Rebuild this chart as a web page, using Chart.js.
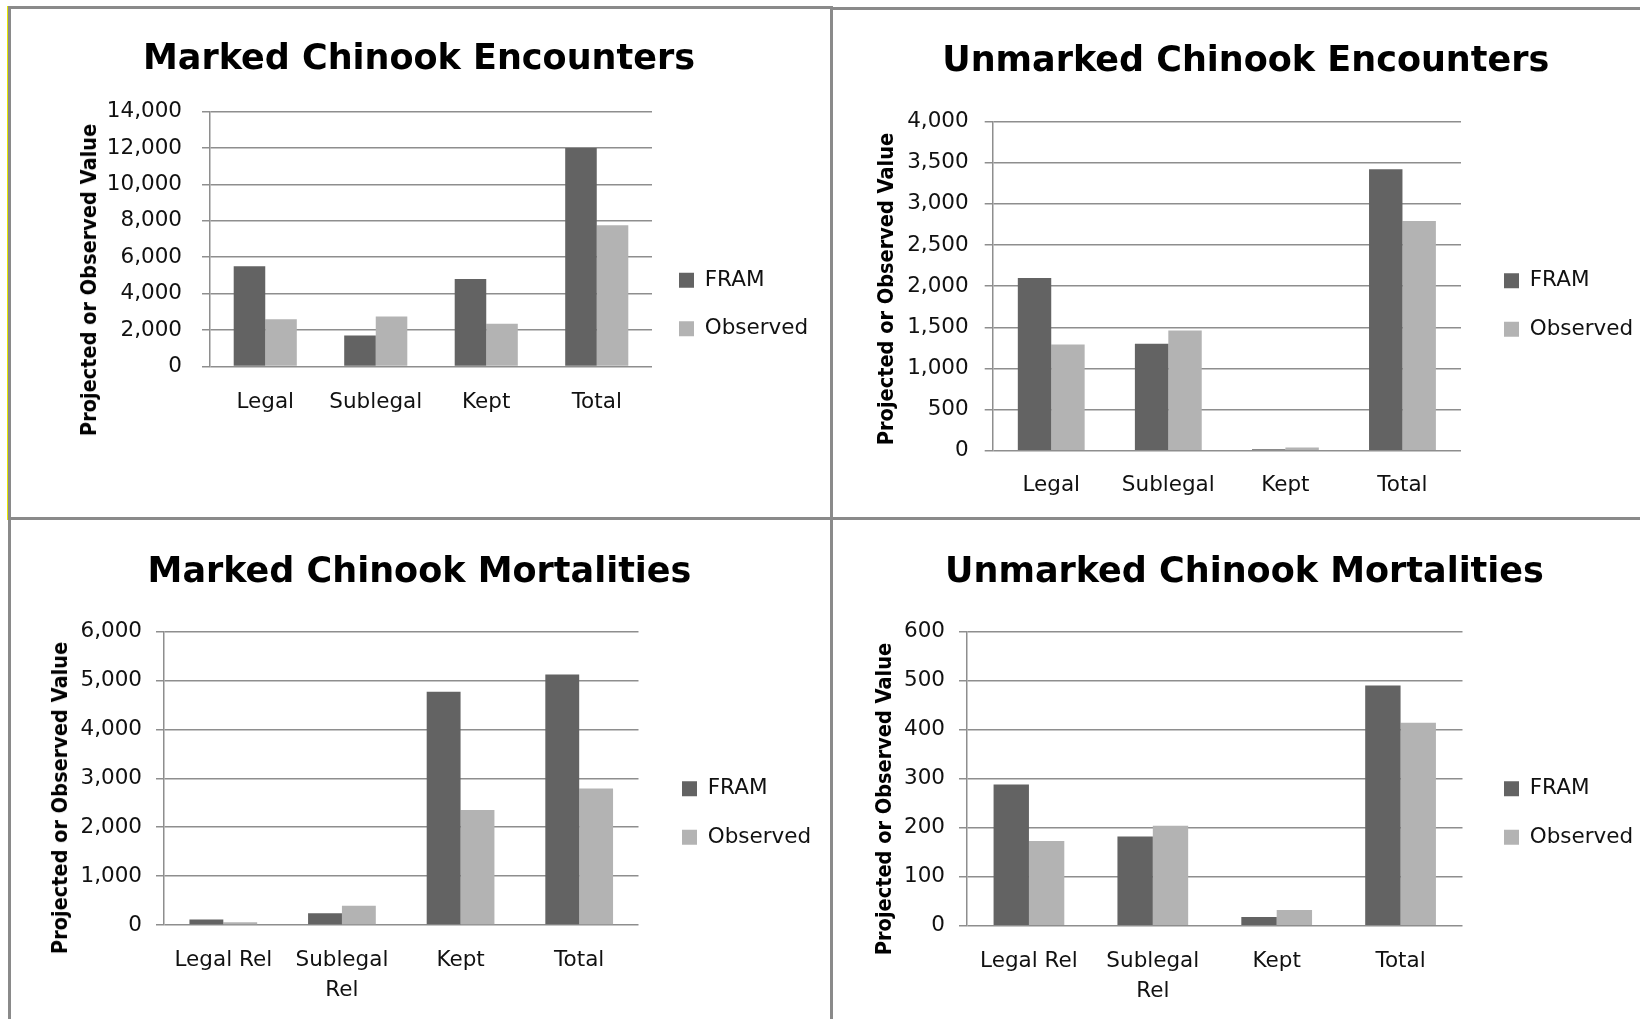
<!DOCTYPE html>
<html>
<head>
<meta charset="utf-8">
<title>Chinook Encounters and Mortalities</title>
<script src="https://cdn.jsdelivr.net/npm/chart.js@4.4.0/dist/chart.umd.min.js"></script>
<style>
  html, body { margin: 0; padding: 0; background: #fff; width: 1640px; height: 1019px; overflow: hidden; }
  .panel { position: absolute; box-sizing: border-box; border: 3px solid #8a8a8a; }
  canvas { position: absolute; }
  .ytitle {
    position: absolute;
    font: bold 22px "DejaVu Sans", sans-serif;
    color: #000;
    white-space: nowrap;
    line-height: 1;
    transform: translate(-50%, -50%) rotate(-90deg) scale(0.88, 1);
  }
</style>
</head>
<body>
<div class="panel" style="left:8px;top:6px;width:825px;height:514px;box-shadow:-1px 0 0 #e6e600;"></div>
<div class="panel" style="left:830px;top:7px;width:830px;height:513px;"></div>
<div class="panel" style="left:8px;top:517px;width:825px;height:520px;"></div>
<div class="panel" style="left:830px;top:517px;width:830px;height:520px;"></div>

<canvas id="markedEnc" width="820" height="589" style="left:10px;top:10px;"></canvas>
<canvas id="unmarkedEnc" width="807" height="590" style="left:833px;top:10px;"></canvas>
<canvas id="markedMort" width="820" height="586" style="left:10px;top:520px;"></canvas>
<canvas id="unmarkedMort" width="807" height="586" style="left:833px;top:520px;"></canvas>

<div class="ytitle" style="left:89px;top:280px;">Projected or Observed Value</div>
<div class="ytitle" style="left:886px;top:289px;">Projected or Observed Value</div>
<div class="ytitle" style="left:60px;top:798px;">Projected or Observed Value</div>
<div class="ytitle" style="left:884px;top:799px;">Projected or Observed Value</div>

<script>
// categories
const encLabels = ['Legal', 'Sublegal', 'Kept', 'Total'];
const mortLabels = ['Legal Rel', ['Sublegal', 'Rel'], 'Kept', 'Total'];
const seriesNames = ['FRAM', 'Observed'];

// values
const markedEncFram = [5500, 1700, 4800, 12000];
const markedEncObs = [2600, 2750, 2350, 7750];
const unmarkedEncFram = [2100, 1300, 20, 3420];
const unmarkedEncObs = [1290, 1460, 40, 2790];
const markedMortFram = [110, 240, 4770, 5120];
const markedMortObs = [55, 395, 2350, 2790];
const unmarkedMortFram = [288, 182, 18, 490];
const unmarkedMortObs = [173, 204, 32, 414];

// y axis ranges
const yMaxes = [14000, 4000, 6000, 600];
const ySteps = [2000, 500, 1000, 100];

Chart.defaults.font.family = '"DejaVu Sans", sans-serif';
Chart.defaults.color = '#111';

const framColor = '#636363';
const obsColor = '#b3b3b3';
const gridColor = '#8e8e8e';

function createChart(cfg) {
    const ctx = document.getElementById(cfg.id).getContext('2d');
    return new Chart(ctx, {
        type: 'bar',
        data: {
            labels: cfg.labels,
            datasets: [
                { label: seriesNames[0], data: cfg.fram, backgroundColor: framColor, borderWidth: 0 },
                { label: seriesNames[1], data: cfg.obs, backgroundColor: obsColor, borderWidth: 0 }
            ]
        },
        options: {
            responsive: false,
            animation: false,
            categoryPercentage: 0.571,
            barPercentage: 1.0,
            layout: { padding: { left: cfg.padL, right: cfg.padR, top: 0, bottom: 0 } },
            plugins: {
                title: {
                    display: true,
                    text: cfg.title,
                    color: '#000',
                    font: { size: 35, weight: 'bold', lineHeight: 1.2 },
                    padding: cfg.titlePad
                },
                legend: {
                    position: 'right',
                    align: 'center',
                    maxWidth: 160,
                    labels: {
                        boxWidth: 15,
                        boxHeight: 15,
                        padding: 27,
                        color: '#111',
                        font: { size: 21.5 }
                    }
                },
                tooltip: { enabled: false }
            },
            scales: {
                x: {
                    grid: { display: false, drawTicks: false },
                    border: { display: false },
                    ticks: {
                        padding: cfg.xPad,
                        maxRotation: 0,
                        autoSkip: false,
                        color: '#111',
                        font: { size: 21.5, lineHeight: 1.43 }
                    },
                    afterFit: s => { s.height = cfg.xHeight; }
                },
                y: {
                    min: 0,
                    max: cfg.yMax,
                    ticks: {
                        stepSize: cfg.yStep,
                        padding: cfg.yPad,
                        color: '#111',
                        font: { size: 21.5 },
                        callback: v => v.toLocaleString('en-US')
                    },
                    grid: { color: gridColor, lineWidth: 1.5, tickLength: 8 },
                    border: { color: gridColor, width: 1.5 },
                    afterFit: s => { s.width = cfg.yWidth; }
                },
                // empty axis that only keeps the legend away from the plot
                gap: {
                    type: 'linear',
                    position: 'right',
                    display: true,
                    grid: { display: false },
                    border: { display: false },
                    ticks: { display: false },
                    afterFit: s => { s.width = cfg.legendGap; }
                }
            }
        }
    });
}

const chartConfigs = [
    {
        id: 'markedEnc', title: 'Marked Chinook Encounters', labels: encLabels,
        fram: markedEncFram, obs: markedEncObs, yMax: yMaxes[0], yStep: ySteps[0],
        padL: 16, padR: 18, yWidth: 184, yPad: 20, xHeight: 232.5, xPad: 21,
        legendGap: 0, titlePad: { top: 29, bottom: 30.5 }
    },
    {
        id: 'unmarkedEnc', title: 'Unmarked Chinook Encounters', labels: encLabels,
        fram: unmarkedEncFram, obs: unmarkedEncObs, yMax: yMaxes[1], yStep: ySteps[1],
        padL: 21.6, padR: 3, yWidth: 138.1, yPad: 16, xHeight: 149.2, xPad: 18.8,
        legendGap: 16, titlePad: { top: 30.5, bottom: 39 }
    },
    {
        id: 'markedMort', title: 'Marked Chinook Mortalities', labels: mortLabels,
        fram: markedMortFram, obs: markedMortObs, yMax: yMaxes[2], yStep: ySteps[2],
        padL: 14, padR: 15, yWidth: 140, yPad: 14, xHeight: 181, xPad: 19.6,
        legendGap: 16.5, titlePad: { top: 31.5, bottom: 38 }
    },
    {
        id: 'unmarkedMort', title: 'Unmarked Chinook Mortalities', labels: mortLabels,
        fram: unmarkedMortFram, obs: unmarkedMortObs, yMax: yMaxes[3], yStep: ySteps[3],
        padL: 19, padR: 3, yWidth: 115, yPad: 14, xHeight: 180.3, xPad: 19.9,
        legendGap: 14.5, titlePad: { top: 31.5, bottom: 38.2 }
    }
];

chartConfigs.forEach(cfg => createChart(cfg));
</script>
</body>
</html>
